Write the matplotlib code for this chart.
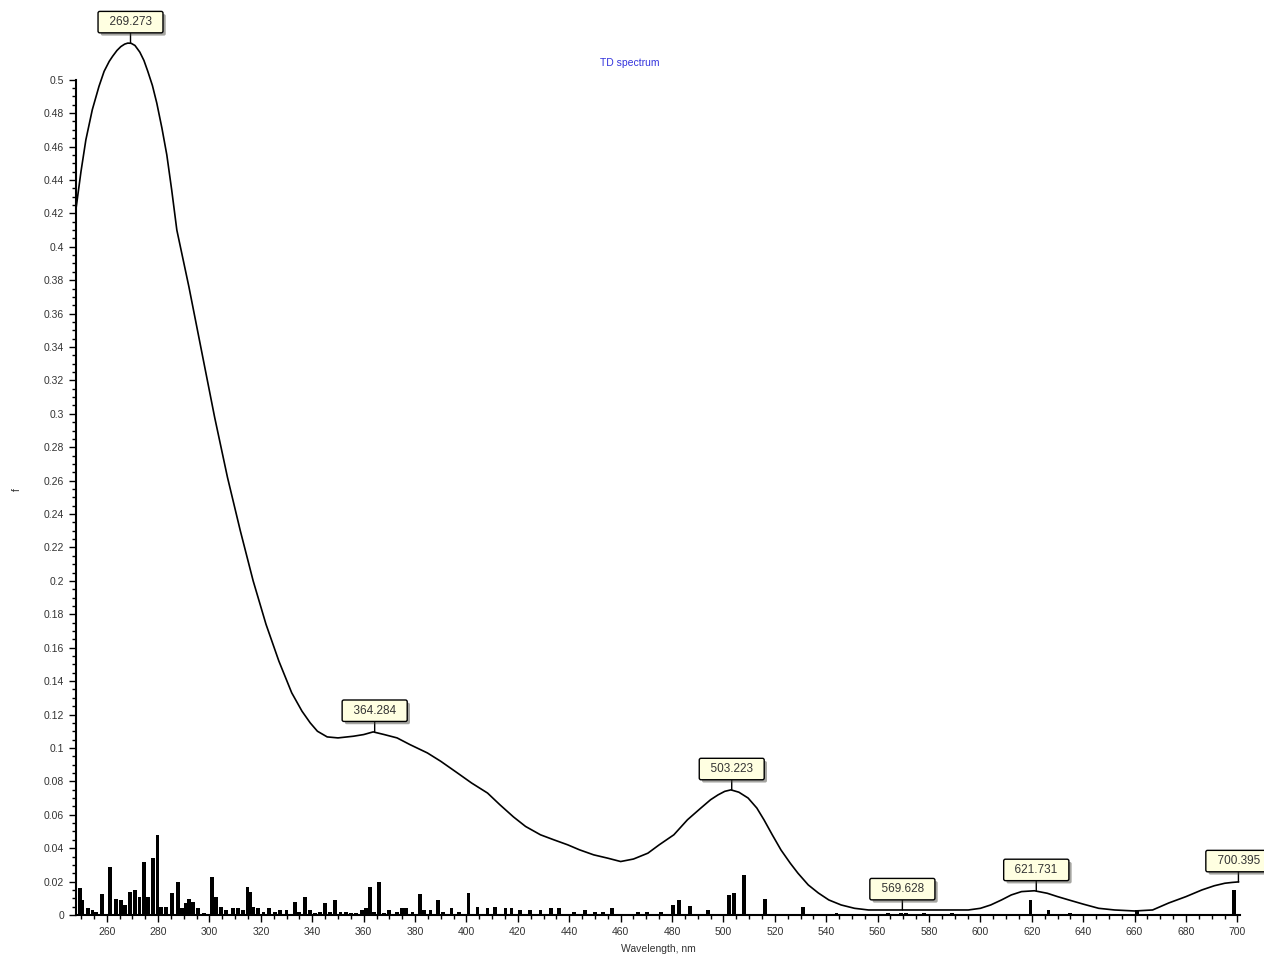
#TD spectrum: broadened curve plus stick spectrum (oscillator strengths)
import numpy as np
import matplotlib.pyplot as plt
from matplotlib.ticker import MultipleLocator, FixedLocator
import matplotlib.patheffects as pe

plt.rcParams['font.family'] = ['Liberation Sans', 'DejaVu Sans']

#Broadened spectrum
curve_wl = [248, 250, 251.9, 254.4, 257, 259, 261, 262.3, 264, 265.5, 267, 268.2, 269.5, 271, 272.9, 274.5, 276,
            277.8, 279.5, 281.5, 283.4, 285.3, 287.3, 292, 297, 302, 307, 312, 317, 322, 327, 332, 336, 339.2,
            342, 345.8, 350, 356, 360, 363.7, 368, 373, 378, 384.8, 390, 396.5, 402, 408.2, 413, 418.3, 423,
            428.8, 434, 439.4, 444, 449.5, 455, 460, 465, 470.6, 475, 480.7, 486, 491.2, 495, 497.9, 500.5,
            502.9, 506, 509.6, 513, 515.8, 519, 522.4, 526, 529, 533, 536.9, 541, 545.8, 551,
            556.4, 563, 570, 580, 590, 595.3, 600, 604, 608.2, 612, 616, 621, 626, 630, 634.4,
            640, 646, 652.2, 660, 667, 673.3, 680, 686.2, 691, 695.1, 698, 700.4]
curve_f = [0.422, 0.445, 0.464, 0.482, 0.496, 0.505, 0.511, 0.514, 0.5175, 0.5198, 0.5213, 0.5219, 0.5218, 0.5205, 0.5165, 0.5115, 0.505,
           0.4965, 0.486, 0.471, 0.455, 0.434, 0.410, 0.376, 0.337, 0.298, 0.262, 0.230, 0.200, 0.174, 0.152, 0.133, 0.122, 0.115,
           0.110, 0.1066, 0.106, 0.107, 0.108, 0.1096, 0.108, 0.106, 0.102, 0.097, 0.092, 0.085, 0.079, 0.073, 0.066, 0.0587, 0.053,
           0.048, 0.045, 0.042, 0.039, 0.036, 0.034, 0.032, 0.0335, 0.037, 0.042, 0.048, 0.057, 0.064, 0.069, 0.0719, 0.074,
           0.0749, 0.0735, 0.070, 0.064, 0.0569, 0.048, 0.0389, 0.031, 0.025, 0.018, 0.0132, 0.009, 0.006, 0.004,
           0.003, 0.003, 0.003, 0.003, 0.003, 0.003, 0.004, 0.006, 0.009, 0.012, 0.014, 0.0145, 0.013, 0.011, 0.009,
           0.0065, 0.004, 0.003, 0.0024, 0.003, 0.0072, 0.011, 0.015, 0.0175, 0.019, 0.0195, 0.0198]

#Excited states (sticks)
stick_wl = [249.5, 250.5, 252.6, 254.5, 256, 258.1, 261.2, 263.6, 265.5, 267, 269, 271, 272.8, 274.6, 276,
            278, 279.8, 281, 283, 285.5, 287.7, 289.3, 290.8, 292, 293.5, 295.5, 298, 301, 302.7, 304.5,
            306.5, 309.2, 311, 313, 314.8, 315.8, 317, 319, 321, 323.2, 325.5, 327.5, 330, 333.3, 335,
            337.2, 339, 341, 343, 345, 347, 348.9, 351, 353, 355, 357, 359.5, 360.8, 362.4, 364, 366,
            368, 370, 373, 375, 376.5, 379, 382, 383.5, 386, 389, 391, 394.2, 397, 400.8, 404.3, 408.2,
            411, 415.2, 417.5, 421, 424.6, 428.8, 433, 436, 441.7, 446, 450, 453, 456.5, 466.7, 470.2,
            475.6, 480.3, 482.6, 487, 494, 502.1, 504, 508, 516.2, 531, 544, 564, 569, 571, 578, 589,
            619.5, 626.5, 634.7, 660.8, 698.6]
stick_f = [0.016, 0.009, 0.004, 0.003, 0.002, 0.0126, 0.029, 0.0096, 0.009, 0.006, 0.014, 0.015, 0.011, 0.032, 0.011,
           0.034, 0.048, 0.005, 0.005, 0.013, 0.020, 0.004, 0.007, 0.0096, 0.008, 0.004, 0.001, 0.0228, 0.011, 0.005,
           0.003, 0.004, 0.004, 0.003, 0.017, 0.014, 0.005, 0.004, 0.002, 0.004, 0.002, 0.003, 0.003, 0.008, 0.002,
           0.011, 0.003, 0.001, 0.002, 0.007, 0.002, 0.009, 0.002, 0.002, 0.001, 0.001, 0.003, 0.004, 0.0168, 0.002, 0.020,
           0.001, 0.003, 0.002, 0.004, 0.004, 0.002, 0.0126, 0.003, 0.003, 0.009, 0.002, 0.004, 0.002, 0.0134, 0.005, 0.004,
           0.005, 0.004, 0.004, 0.003, 0.003, 0.003, 0.004, 0.004, 0.002, 0.003, 0.002, 0.002, 0.004, 0.002, 0.002,
           0.002, 0.006, 0.009, 0.0054, 0.003, 0.012, 0.0134, 0.024, 0.0096, 0.005, 0.001, 0.001, 0.001, 0.001, 0.001, 0.001,
           0.009, 0.003, 0.001, 0.003, 0.015]

#Labelled peaks
peak_wl = [269.273, 364.284, 503.223, 569.628, 621.731, 700.395]
peak_f = [0.522, 0.1098, 0.0749, 0.003, 0.0145, 0.0198]
peak_txt = ['269.273', '364.284', '503.223', '569.628', '621.731', '700.395']

yticks = np.arange(0, 0.501, 0.02)

fig = plt.figure(figsize=(12.64, 9.58), dpi=100)
ax = fig.add_axes([0.060, 0.0449, 0.921, 0.9155])

ax.bar(stick_wl, stick_f, width=1.5, color='black', zorder=2)
ax.plot(curve_wl, curve_f, color='black', linewidth=1.2, zorder=3)

for x, y, t in zip(peak_wl, peak_f, peak_txt):
    ann = ax.annotate('  ' + t + '  ', xy=(x, y), xytext=(0, 15), textcoords='offset points',
                      ha='center', va='center', fontsize=8.5, color='#333333',
                      bbox=dict(boxstyle='round,pad=0.4,rounding_size=0.15', fc='#ffffe1', ec='black', lw=1),
                      arrowprops=dict(arrowstyle='-', color='black', lw=1, shrinkA=0, shrinkB=0),
                      annotation_clip=False, zorder=5)
    ann.get_bbox_patch().set_path_effects([pe.SimplePatchShadow(offset=(2, -2), alpha=0.5), pe.Normal()])

ax.set_xlim(248, 701)
ax.set_ylim(0, 0.525)
ax.set_xticks(np.arange(260, 701, 20))
ax.xaxis.set_minor_locator(MultipleLocator(5))
ax.set_yticks(yticks)
ax.set_yticklabels(['%g' % round(v, 2) for v in yticks])
ax.yaxis.set_minor_locator(FixedLocator(np.arange(0, 0.5001, 0.005)))

for s in ['top', 'right']:
    ax.spines[s].set_visible(False)
ax.spines['left'].set_bounds(0, 0.5)
ax.spines['left'].set_linewidth(1.5)
ax.spines['bottom'].set_linewidth(1.5)
ax.tick_params(which='major', direction='out', length=5, width=1, labelsize=7.5, labelcolor='#333333')
ax.tick_params(which='minor', direction='out', length=3, width=1)

ax.set_xlabel('Wavelength, nm', fontsize=7.5, color='#333333', labelpad=5)
ax.set_ylabel('f', fontsize=7.5, color='#333333')
ax.yaxis.set_label_coords(-0.046, 0.485)
fig.text(630/1264, 1-63/958, 'TD spectrum', color='#3333dd', fontsize=7.5, ha='center', va='center')

plt.savefig('out.png', dpi=100)
